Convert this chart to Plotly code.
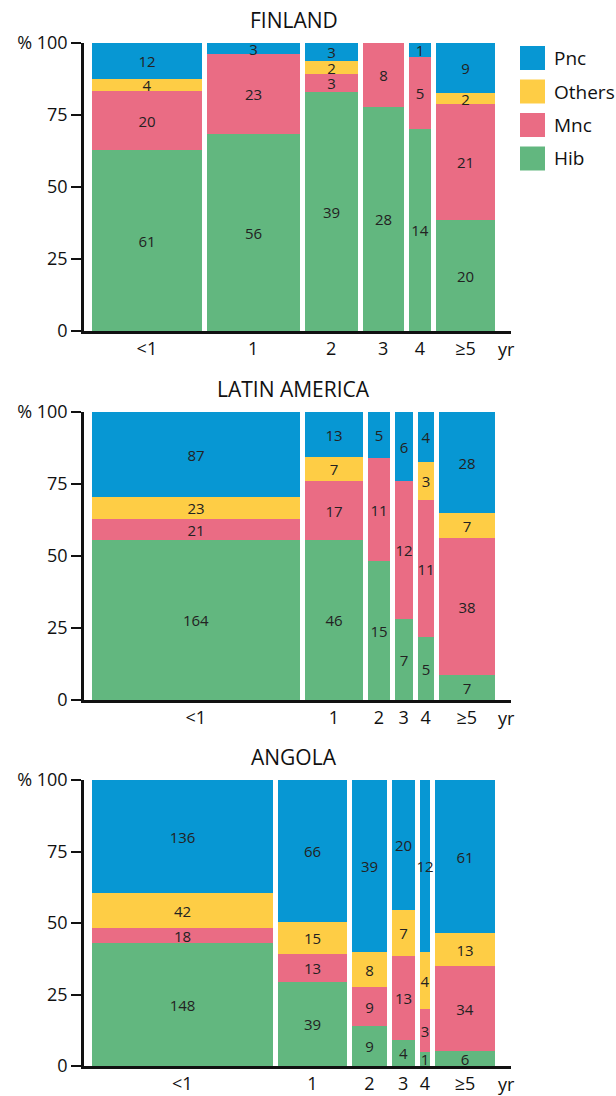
import plotly.graph_objects as go

# ---------------- data ----------------
ages = ["<1", "1", "2", "3", "4", "≥5"]
series = ["Hib", "Mnc", "Others", "Pnc"]
colors = ["#62B77F", "#EA6C84", "#FECD45", "#0797D3"]
panel_titles = ["FINLAND", "LATIN AMERICA", "ANGOLA"]
y_tickvals = [0, 25, 50, 75, 100]
y_ticktext = ["0", "25", "50", "75", "% 100"]

finland_hib = [61, 56, 39, 28, 14, 20]
finland_mnc = [20, 23, 3, 8, 5, 21]
finland_others = [4, 0, 2, 0, 0, 2]
finland_pnc = [12, 3, 3, 0, 1, 9]

latam_hib = [164, 46, 15, 7, 5, 7]
latam_mnc = [21, 17, 11, 12, 11, 38]
latam_others = [23, 7, 0, 0, 3, 7]
latam_pnc = [87, 13, 5, 6, 4, 28]

angola_hib = [148, 39, 9, 4, 1, 6]
angola_mnc = [18, 13, 9, 13, 3, 34]
angola_others = [42, 15, 8, 7, 4, 13]
angola_pnc = [136, 66, 39, 20, 12, 61]

panels = [
    [finland_hib, finland_mnc, finland_others, finland_pnc],
    [latam_hib, latam_mnc, latam_others, latam_pnc],
    [angola_hib, angola_mnc, angola_others, angola_pnc],
]

# ---------------- layout geometry (pixels) ----------------
W, H = 616, 1096
axis_left_px, axis_right_px = 84, 511
bars_left_px, bars_right_px = 92, 495
gap_px = 5
panel_top_px = [43, 412, 780]
panel_bot_px = [331, 700, 1066]
title_y_px = [20, 389, 757]
FONT = "Open Sans"

fig = go.Figure()
annotations = []
shapes = []

for p, data in enumerate(panels):
    ax = "" if p == 0 else str(p + 1)
    totals = [sum(s[j] for s in data) for j in range(len(ages))]
    N = sum(totals)
    k = ((bars_right_px - bars_left_px) - gap_px * (len(ages) - 1)) / N  # px per count
    g = gap_px / k
    centers = []
    pos = 0.0
    for t in totals:
        centers.append(pos + t / 2)
        pos += t + g
    for si, name in enumerate(series):
        vals = data[si]
        pct = [v / t * 100 for v, t in zip(vals, totals)]
        fig.add_trace(go.Bar(
            x=centers, y=pct, width=totals, name=name,
            marker=dict(color=colors[si], line=dict(width=0)),
            text=[str(v) if v > 0 else "" for v in vals],
            textposition="inside", insidetextanchor="middle",
            textangle=0, constraintext="none",
            textfont=dict(family=FONT, size=15, color="#222"),
            xaxis="x" + ax, yaxis="y" + ax, showlegend=False,
            hoverinfo="skip",
        ))
    x_range = [-(bars_left_px - axis_left_px) / k,
               pos - g + (axis_right_px - bars_right_px) / k]
    ydom = [1 - panel_bot_px[p] / H, 1 - panel_top_px[p] / H]
    fig.layout["xaxis" + ax] = dict(
        domain=[axis_left_px / W, axis_right_px / W], range=x_range,
        anchor="y" + ax, showline=True, linecolor="#111", linewidth=2.5,
        showgrid=False, zeroline=False, ticks="", automargin=False,
        tickvals=centers, ticktext=ages,
        tickfont=dict(family=FONT, size=18, color="#111"),
        fixedrange=True,
    )
    fig.layout["yaxis" + ax] = dict(
        domain=ydom, range=[0, 100], anchor="x" + ax,
        showline=True, linecolor="#111", linewidth=2.5,
        showgrid=False, zeroline=False, automargin=False,
        ticks="outside", ticklen=10, tickwidth=2, tickcolor="#111",
        tickvals=y_tickvals, ticktext=y_ticktext,
        tickfont=dict(family=FONT, size=18, color="#111"),
        fixedrange=True,
    )
    annotations.append(dict(
        text=panel_titles[p], xref="paper", yref="paper",
        x=(bars_left_px + bars_right_px) / 2 / W, y=1 - title_y_px[p] / H,
        xanchor="center", yanchor="middle", showarrow=False,
        font=dict(family=FONT, size=21, color="#111"),
    ))
    annotations.append(dict(
        text="yr", xref="paper", yref="paper",
        x=506 / W, y=1 - (panel_bot_px[p] + 18) / H,
        xanchor="center", yanchor="middle", showarrow=False,
        font=dict(family=FONT, size=18, color="#111"),
    ))

# legend (manual swatches, top to bottom: Pnc, Others, Mnc, Hib)
leg_top = 46
leg_step = 33.5
for i, si in enumerate(reversed(range(len(series)))):
    y0 = leg_top + i * leg_step
    shapes.append(dict(
        type="rect", xref="paper", yref="paper",
        x0=520 / W, x1=545 / W, y0=1 - (y0 + 24) / H, y1=1 - y0 / H,
        fillcolor=colors[si], line=dict(width=0),
    ))
    annotations.append(dict(
        text=series[si], xref="paper", yref="paper",
        x=552 / W, y=1 - (y0 + 12) / H, xanchor="left", yanchor="middle",
        showarrow=False, font=dict(family=FONT, size=19, color="#111"),
    ))

fig.update_layout(
    width=W, height=H, barmode="stack", bargap=0,
    margin=dict(l=0, r=0, t=0, b=0, autoexpand=False),
    paper_bgcolor="white", plot_bgcolor="white",
    annotations=annotations, shapes=shapes, showlegend=False,
)

fig.write_html(
    "out.html",
    config={"displayModeBar": False},
    post_script="document.body.style.margin='0';document.body.style.overflow='hidden';",
)
